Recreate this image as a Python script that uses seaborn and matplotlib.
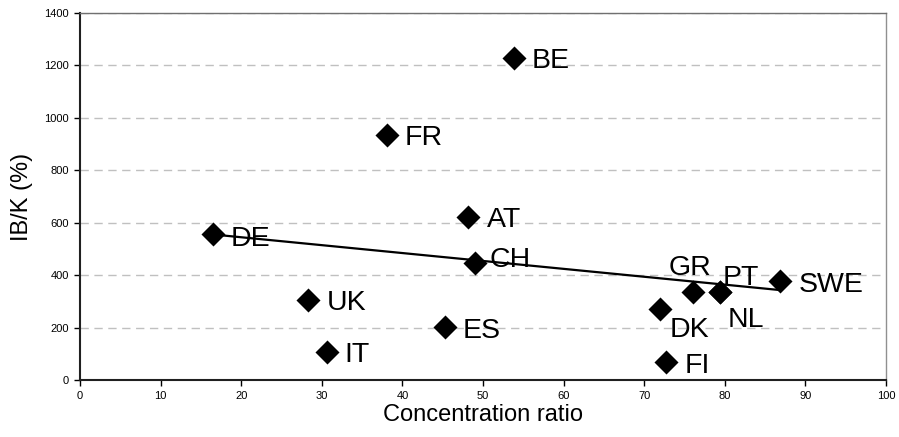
import matplotlib
matplotlib.use("Agg")
import matplotlib.pyplot as plt
import seaborn as sns
import pandas as pd

countries = ["DE", "UK", "IT", "FR", "ES", "AT", "CH", "BE", "DK", "FI", "GR", "PT", "NL", "SWE"]
concentration = [16.5, 28.3, 30.6, 38.1, 45.3, 48.1, 49.0, 53.8, 71.9, 72.7, 76.0, 79.4, 79.4, 86.8]
ib_k = [556, 305, 106, 935, 202, 622, 445, 1230, 270, 68, 337, 337, 337, 379]

df = pd.DataFrame({"country": countries, "cr": concentration, "ibk": ib_k})

# label offsets from the marker, in pixels (dx right, dy down)
label_offsets = {
    "DE": (18, 2), "UK": (19, 0), "IT": (18, 0), "FR": (18, 0), "BE": (18, 0),
    "AT": (19, 0), "CH": (15, -6), "ES": (18, 1), "GR": (-24, -27), "PT": (3, -17),
    "NL": (8, 25), "DK": (10, 18), "SWE": (19, 1), "FI": (19, 1),
}

sns.set_style("white")
plt.rcParams["font.family"] = ["Liberation Sans", "DejaVu Sans"]
plt.rcParams["text.color"] = "black"
plt.rcParams["axes.labelcolor"] = "black"
plt.rcParams["xtick.color"] = "black"
plt.rcParams["ytick.color"] = "black"

fig = plt.figure(figsize=(8.99, 4.37), dpi=100)
ax = fig.add_axes([80 / 899, 57 / 437, 806 / 899, 367 / 437])

sns.regplot(data=df, x="cr", y="ibk", ax=ax, ci=None, color="black", marker="D",
            scatter_kws={"s": 150, "zorder": 3, "linewidths": 0, "alpha": 1},
            line_kws={"linewidth": 1.6, "zorder": 4})

px2pt = 0.72
for c, x, y in zip(countries, concentration, ib_k):
    dx, dy = label_offsets[c]
    ax.annotate(c, (x, y), xytext=(dx * px2pt, -dy * px2pt - 7.3), textcoords="offset points",
                ha="left", va="baseline", fontsize=20.5, color="black", zorder=5)

ax.set_xlim(0, 100)
ax.set_ylim(0, 1400)
ax.set_xticks(range(0, 101, 10))
ax.set_yticks(range(0, 1401, 200))
ax.tick_params(axis="both", which="major", labelsize=8, length=4, width=1,
               direction="out", color="black", left=True, bottom=True, pad=4)
ax.set_xlabel("Concentration ratio", fontsize=17, labelpad=2)
ax.set_ylabel("IB/K (%)", fontsize=17, labelpad=8)

ax.yaxis.grid(True, linestyle=(0, (6, 4)), color="#c0c0c0", linewidth=1)
ax.set_axisbelow(True)

ax.spines["left"].set_color("#202020")
ax.spines["bottom"].set_color("#202020")
ax.spines["left"].set_linewidth(1.5)
ax.spines["bottom"].set_linewidth(1.5)
ax.spines["top"].set_color("#707070")
ax.spines["right"].set_color("#909090")
ax.spines["top"].set_linewidth(1)
ax.spines["right"].set_linewidth(1)

fig.savefig("out.png", dpi=100)
